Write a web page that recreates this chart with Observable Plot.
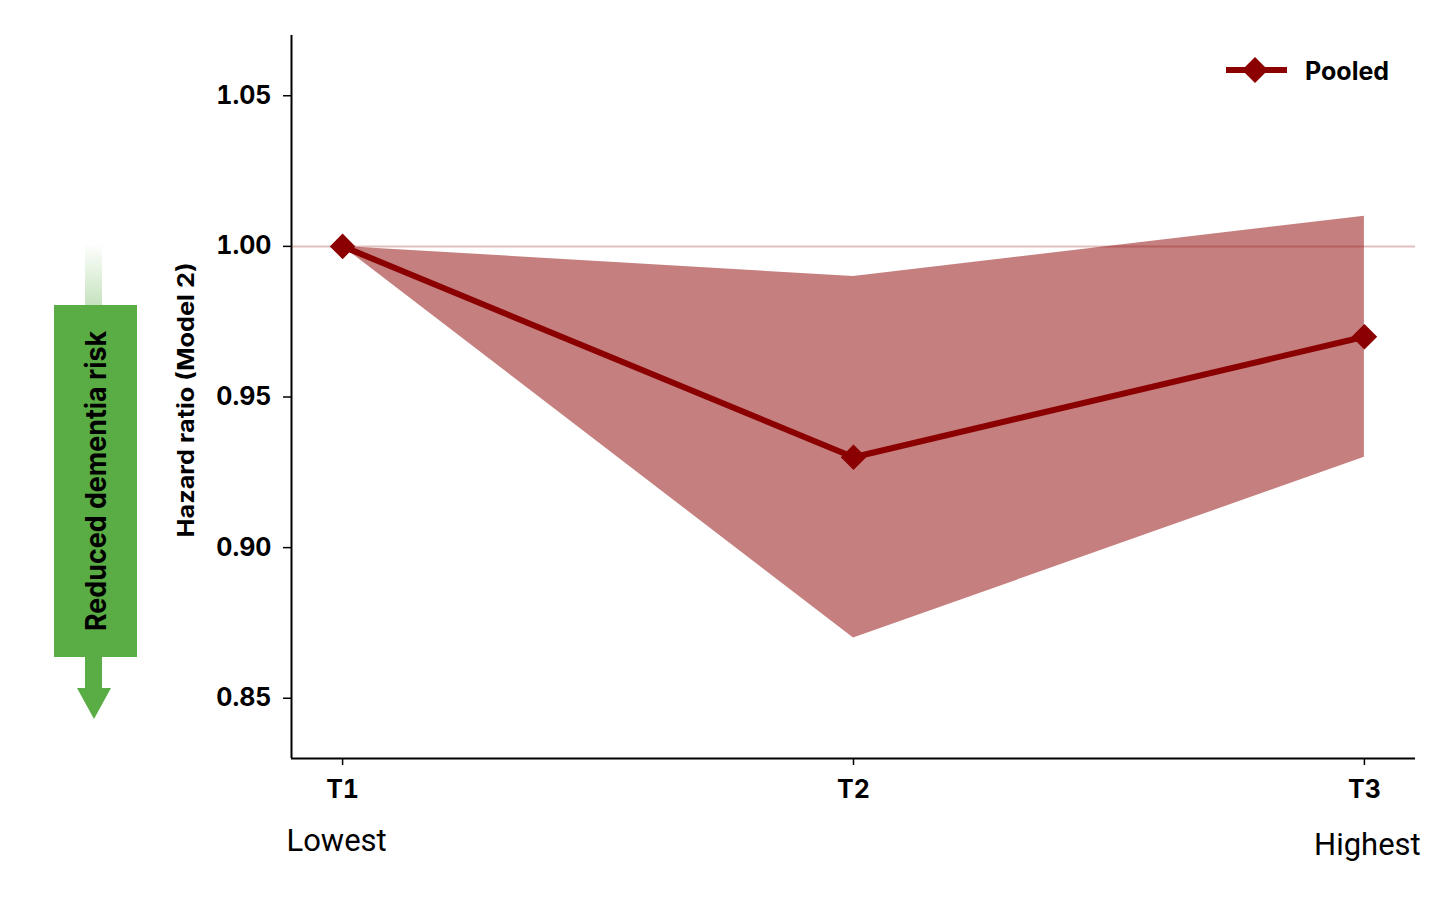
<!DOCTYPE html>
<html>
<head>
<meta charset="utf-8">
<script src="https://cdn.jsdelivr.net/npm/d3@7"></script>
<script src="https://cdn.jsdelivr.net/npm/@observablehq/plot@0.6"></script>
<style>
  html, body { margin: 0; padding: 0; background: #fff; }
  #wrap { position: relative; width: 1456px; height: 903px; }
  #deco { position: absolute; left: 0; top: 0; pointer-events: none; }
</style>
</head>
<body>
<div id="wrap"></div>
<script>
// ---- data ----
const tertiles = ["T1", "T2", "T3"];
const hazardRatio = [1.00, 0.93, 0.97];
const ciLower = [1.00, 0.87, 0.93];
const ciUpper = [1.00, 0.99, 1.01];
const yTicks = [0.85, 0.90, 0.95, 1.00, 1.05];
const endLabels = ["Lowest", "Highest"];
const yLabel = "Hazard ratio (Model 2)";
const seriesName = "Pooled";
const annotation = "Reduced dementia risk";

const rows = tertiles.map((t, i) => ({t, i, hr: hazardRatio[i], lo: ciLower[i], hi: ciUpper[i]}));
const RED = "#8b0000";
const GREEN = "#5aac44";

const chart = Plot.plot({
  width: 1456,
  height: 903,
  marginLeft: 291,
  marginRight: 41,
  marginTop: 35,
  marginBottom: 145,
  style: {fontFamily: "Inter, 'Liberation Sans', sans-serif", background: "white"},
  x: {domain: [-0.1, 2.1]},
  y: {domain: [0.83, 1.07]},
  marks: [
    Plot.areaY(rows, {x: "i", y1: "lo", y2: "hi", fill: RED, fillOpacity: 0.5}),
    Plot.ruleY([1.0], {stroke: RED, strokeOpacity: 0.25, strokeWidth: 2}),
    Plot.line(rows, {x: "i", y: "hr", stroke: RED, strokeWidth: 6}),
    Plot.dot(rows, {x: "i", y: "hr", symbol: "diamond2", r: 11.5, fill: RED}),
    Plot.axisY({ticks: yTicks, tickFormat: d3.format(".2f"), tickSize: 8, tickPadding: 12,
      fontSize: 25, fontWeight: "bold", label: null, stroke: "black", strokeWidth: 1.5}),
    Plot.ruleX([-0.1], {stroke: "black", strokeWidth: 2}),
    Plot.axisX({ticks: [0, 1, 2], tickFormat: (d) => tertiles[d], tickSize: 7, tickPadding: 15,
      fontSize: 25, fontWeight: "bold", label: null, strokeWidth: 1.5}),
    Plot.ruleY([0.83], {stroke: "black", strokeWidth: 2}),
    Plot.text([0], {x: (d) => d, text: () => endLabels[0], frameAnchor: "bottom", lineAnchor: "middle",
      dy: 83, dx: -6, fontSize: 31, fill: "black", fontFamily: "Roboto, sans-serif"}),
    Plot.text([2], {x: (d) => d, text: () => endLabels[1], frameAnchor: "bottom", lineAnchor: "middle",
      dy: 87, dx: 3, fontSize: 31, fill: "black", fontFamily: "Roboto, sans-serif"}),
    Plot.text([yLabel], {frameAnchor: "left", textAnchor: "middle", lineAnchor: "middle", dx: -105, dy: 3, rotate: -90,
      fontSize: 23, fontWeight: "bold", fill: "black", text: (d) => d})
  ]
});
document.getElementById("wrap").appendChild(chart);
// match the axis title's length in the reference
for (const t of chart.querySelectorAll("text")) {
  if (t.textContent === yLabel) {
    t.setAttribute("textLength", 275);
    t.setAttribute("lengthAdjust", "spacingAndGlyphs");
  }
}

// ---- decorations: legend and annotation arrow ----
const deco = d3.select("#wrap").append("svg")
  .attr("id", "deco").attr("width", 1456).attr("height", 903);

const defs = deco.append("defs");
const grad = defs.append("linearGradient").attr("id", "tailgrad")
  .attr("x1", 0).attr("y1", 0).attr("x2", 0).attr("y2", 1);
grad.append("stop").attr("offset", "0%").attr("stop-color", GREEN).attr("stop-opacity", 0);
grad.append("stop").attr("offset", "100%").attr("stop-color", GREEN).attr("stop-opacity", 0.35);

deco.append("rect").attr("x", 85).attr("y", 243).attr("width", 17).attr("height", 63).attr("fill", "url(#tailgrad)");
deco.append("rect").attr("x", 54).attr("y", 305).attr("width", 83).attr("height", 352).attr("fill", GREEN);
deco.append("rect").attr("x", 85).attr("y", 656).attr("width", 17).attr("height", 33).attr("fill", GREEN);
deco.append("path").attr("d", "M77,688 L111,688 L94,719 Z").attr("fill", GREEN);
deco.append("text").attr("transform", "translate(106,481) rotate(-90)")
  .attr("text-anchor", "middle").attr("font-family", "Inter, sans-serif")
  .attr("font-weight", "bold").attr("font-size", 29).attr("fill", "black")
  .attr("textLength", 300).attr("lengthAdjust", "spacingAndGlyphs").text(annotation);

// legend
deco.append("line").attr("x1", 1226).attr("x2", 1287).attr("y1", 70).attr("y2", 70)
  .attr("stroke", RED).attr("stroke-width", 6);
deco.append("path").attr("d", "M1255,57 L1268,70 L1255,83 L1242,70 Z").attr("fill", RED);
deco.append("text").attr("x", 1305).attr("y", 80).attr("font-family", "Inter, sans-serif")
  .attr("font-weight", "bold").attr("font-size", 25).attr("fill", "black").text(seriesName);
</script>
</body>
</html>
